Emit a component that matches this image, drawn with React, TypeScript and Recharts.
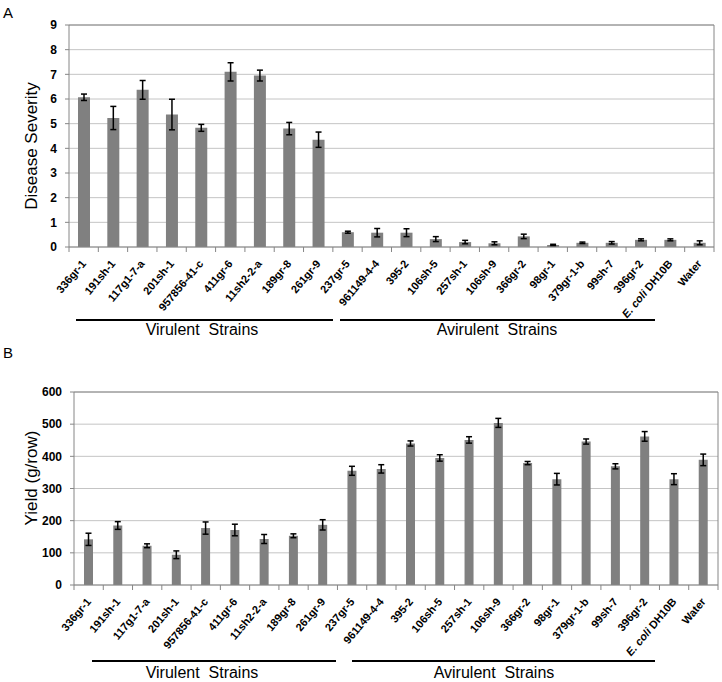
import React from "react";
import {
  Bar,
  BarChart,
  CartesianGrid,
  ErrorBar,
  ReferenceLine,
  XAxis,
  YAxis
} from "recharts";

const categories = [
  "336gr-1",
  "191sh-1",
  "117g1-7-a",
  "201sh-1",
  "957856-41-c",
  "411gr-6",
  "11sh2-2-a",
  "189gr-8",
  "261gr-9",
  "237gr-5",
  "961149-4-4",
  "395-2",
  "106sh-5",
  "257sh-1",
  "106sh-9",
  "366gr-2",
  "98gr-1",
  "379gr-1-b",
  "99sh-7",
  "396gr-2",
  "E. coli DH10B",
  "Water"
];

const severity = [
  6.07, 5.23, 6.37, 5.37, 4.83, 7.1, 6.95, 4.8, 4.35, 0.6, 0.58, 0.58, 0.32,
  0.2, 0.15, 0.43, 0.08, 0.17, 0.17, 0.29, 0.29, 0.17
];
const severityErr = [
  0.13, 0.47, 0.38, 0.62, 0.14, 0.37, 0.22, 0.25, 0.31, 0.04, 0.17, 0.16, 0.1,
  0.07, 0.06, 0.09, 0.03, 0.03, 0.05, 0.04, 0.04, 0.08
];

const yieldValues = [
  142, 185, 122, 94, 177, 171, 143, 153, 187, 355, 361, 440, 395, 451, 504,
  379, 329, 446, 369, 462, 329, 389
];
const yieldErr = [
  19, 12, 6, 12, 19, 18, 14, 6, 16, 14, 13, 8, 10, 10, 14, 5, 18, 8, 8, 15,
  17, 18
];

const severityTicks = [0, 1, 2, 3, 4, 5, 6, 7, 8, 9];
const yieldTicks = [0, 100, 200, 300, 400, 500, 600];

const severityData = categories.map((name, i) => ({
  name,
  value: severity[i],
  err: severityErr[i]
}));
const yieldData = categories.map((name, i) => ({
  name,
  value: yieldValues[i],
  err: yieldErr[i]
}));

const FONT = "'Liberation Sans', Arial, sans-serif";
const AXIS = "#868686";
const GRID = "#c4c4c4";
const BAR = "#808080";
const LABEL_ANGLE = -50;

function CategoryTick(props: any) {
  const { x, y, payload, index } = props;
  const half = payload?.offset ?? 14.6;
  const label: string = payload.value;
  const ecoli = label.startsWith("E. coli");
  const tx = x + 3;
  const ty = y + 17;
  return (
    <g>
      {index === 0 && (
        <line x1={x - half} x2={x - half} y1={y} y2={y + 5} stroke={AXIS} />
      )}
      <line x1={x + half} x2={x + half} y1={y} y2={y + 5} stroke={AXIS} />
      <text
        x={tx}
        y={ty}
        transform={`rotate(${LABEL_ANGLE} ${tx} ${ty})`}
        textAnchor="end"
        fontSize={11}
        fontWeight="bold"
        fontFamily={FONT}
        fill="#000"
      >
        {ecoli ? (
          <>
            <tspan fontStyle="italic">E. coli</tspan> DH10B
          </>
        ) : (
          label
        )}
      </text>
    </g>
  );
}

function GroupLabel({
  x1,
  x2,
  lineY,
  text,
  cx,
  textY
}: {
  x1: number;
  x2: number;
  lineY: number;
  text: string;
  cx: number;
  textY: number;
}) {
  return (
    <>
      <div
        style={{
          position: "absolute",
          left: x1,
          top: lineY - 1,
          width: x2 - x1,
          height: 2,
          background: "#000"
        }}
      />
      <div
        style={{
          position: "absolute",
          left: cx - 100,
          top: textY - 10,
          width: 200,
          lineHeight: "20px",
          textAlign: "center",
          fontSize: 16,
          fontFamily: FONT,
          color: "#000",
          whiteSpace: "pre"
        }}
      >
        {text}
      </div>
    </>
  );
}

function RotatedLabel({ text, cx, cy }: { text: string; cx: number; cy: number }) {
  return (
    <div
      style={{
        position: "absolute",
        left: cx - 100,
        top: cy - 10,
        width: 200,
        height: 20,
        lineHeight: "20px",
        textAlign: "center",
        fontSize: 17,
        fontFamily: FONT,
        color: "#000",
        transform: "rotate(-90deg)"
      }}
    >
      {text}
    </div>
  );
}

const yTick = { fontSize: 12, fontWeight: "bold", fill: "#000", fontFamily: FONT };

export default function App() {
  return (
    <div
      style={{
        position: "absolute",
        left: 0,
        top: 0,
        width: 722,
        height: 682,
        background: "#fff",
        fontFamily: FONT
      }}
    >
      <div style={{ position: "absolute", left: 3, top: 4, fontSize: 15 }}>A</div>
      <div style={{ position: "absolute", left: 0, top: 0 }}>
        <BarChart
          width={722}
          height={340}
          data={severityData}
          margin={{ top: 25, right: 0, left: 0, bottom: 0 }}
          barCategoryGap={0}
        >
          <CartesianGrid vertical={false} stroke={GRID} />
          <XAxis
            dataKey="name"
            interval={0}
            height={93}
            tickSize={0}
            tickMargin={0}
            tickLine={false}
            axisLine={{ stroke: AXIS }}
            tick={<CategoryTick />}
          />
          <YAxis
            width={69}
            domain={[0, 9]}
            ticks={severityTicks}
            interval={0}
            tick={yTick}
            tickSize={4}
            tickMargin={8}
            tickLine={{ stroke: AXIS }}
            axisLine={{ stroke: AXIS }}
          />
          <YAxis
            yAxisId="frame"
            orientation="right"
            width={8}
            domain={[0, 1]}
            tick={false}
            tickLine={false}
            axisLine={{ stroke: AXIS }}
          />
          <ReferenceLine y={9} stroke={AXIS} />
          <Bar dataKey="value" fill={BAR} barSize={12} isAnimationActive={false}>
            <ErrorBar dataKey="err" width={3} stroke="#000" strokeWidth={1.5} />
          </Bar>
        </BarChart>
      </div>
      <RotatedLabel text="Disease Severity" cx={32} cy={146} />
      <GroupLabel x1={76} x2={333} lineY={320} text="Virulent  Strains" cx={202} textY={330} />
      <GroupLabel x1={340} x2={655} lineY={320} text="Avirulent  Strains" cx={497} textY={330} />

      <div style={{ position: "absolute", left: 3, top: 344, fontSize: 15 }}>B</div>
      <div style={{ position: "absolute", left: 0, top: 340 }}>
        <BarChart
          width={722}
          height={342}
          data={yieldData}
          margin={{ top: 52, right: 0, left: 0, bottom: 0 }}
          barCategoryGap={0}
        >
          <CartesianGrid vertical={false} stroke={GRID} />
          <XAxis
            dataKey="name"
            interval={0}
            height={97}
            tickSize={0}
            tickMargin={0}
            tickLine={false}
            axisLine={{ stroke: AXIS }}
            tick={<CategoryTick />}
          />
          <YAxis
            width={74}
            domain={[0, 600]}
            ticks={yieldTicks}
            interval={0}
            tick={yTick}
            tickSize={4}
            tickMargin={8}
            tickLine={{ stroke: AXIS }}
            axisLine={{ stroke: AXIS }}
          />
          <YAxis
            yAxisId="frame"
            orientation="right"
            width={4}
            domain={[0, 1]}
            tick={false}
            tickLine={false}
            axisLine={{ stroke: AXIS }}
          />
          <ReferenceLine y={600} stroke={AXIS} />
          <Bar dataKey="value" fill={BAR} barSize={9} isAnimationActive={false}>
            <ErrorBar dataKey="err" width={3} stroke="#000" strokeWidth={1.5} />
          </Bar>
        </BarChart>
      </div>
      <RotatedLabel text="Yield (g/row)" cx={32} cy={478} />
      <GroupLabel x1={92} x2={336} lineY={661} text="Virulent  Strains" cx={202} textY={673} />
      <GroupLabel x1={352} x2={655} lineY={661} text="Avirulent  Strains" cx={494} textY={673} />
    </div>
  );
}
